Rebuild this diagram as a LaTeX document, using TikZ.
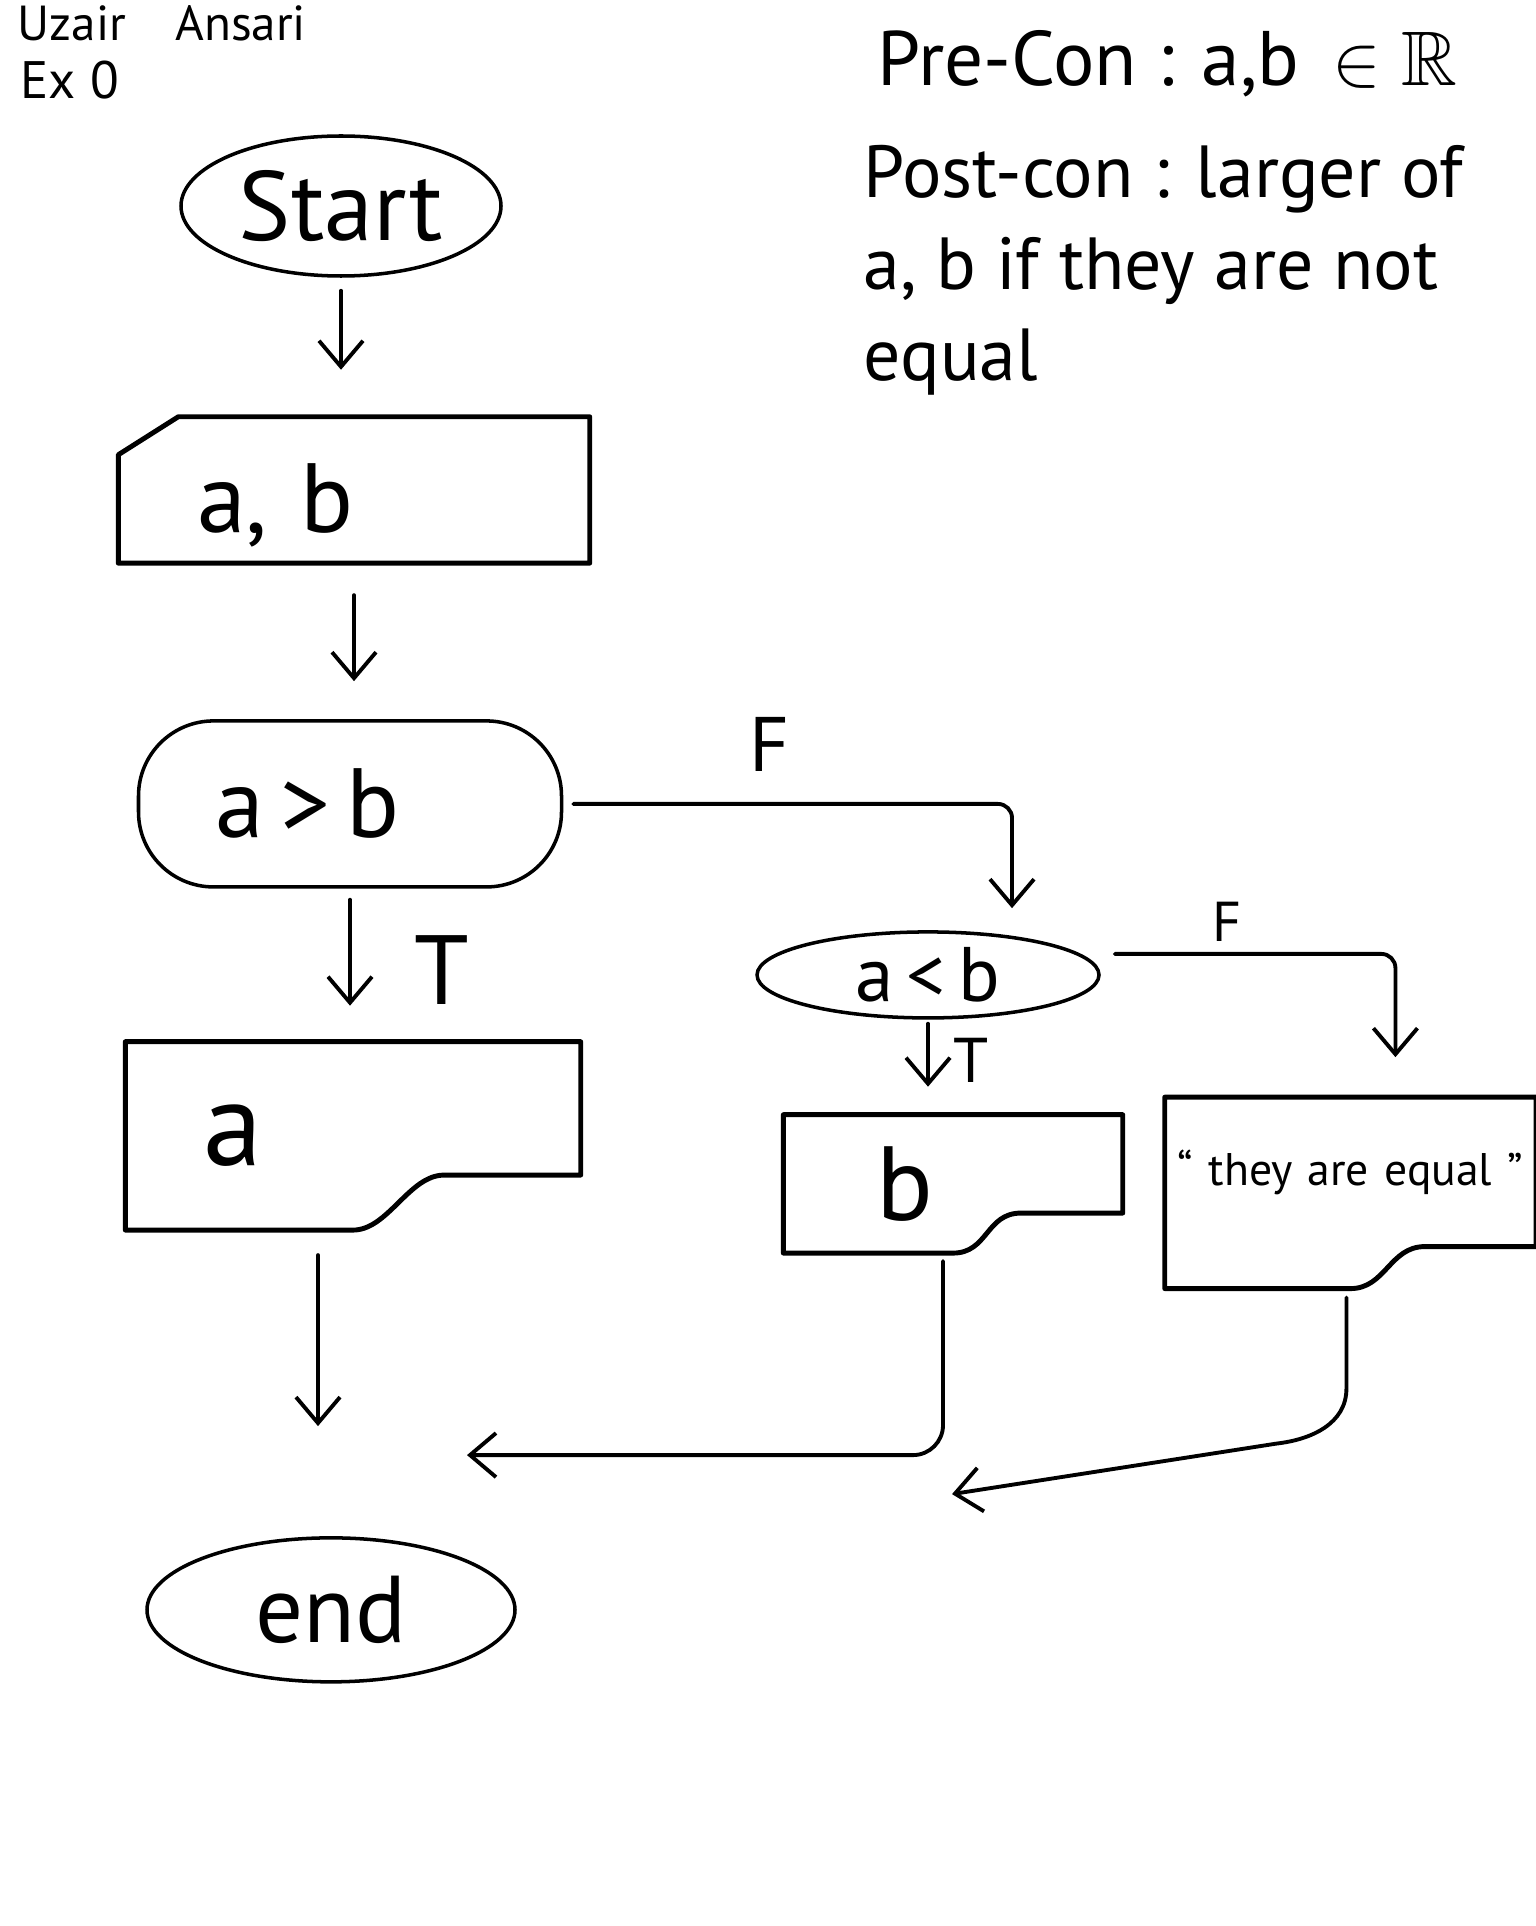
\documentclass[tikz,border=0pt]{standalone}
\usepackage{fontspec}
\setmainfont{PT Sans}
\usepackage{amssymb}
\usetikzlibrary{arrows.meta, positioning, calc, shapes.geometric}

% outline of an output box (wavy bottom)
\newcommand{\docoutline}[2]{%
  \draw[shapeline] (#1.south west) -- (#1.north west) -- (#1.north east)
    -- ($(#1.south east)+(0,#2)$)
    -- ($(#1.south west)!0.7!(#1.south east)+(0,#2)$)
    .. controls +(-0.35,0) and +(0.35,0) .. ($(#1.south west)!0.5!(#1.south east)$)
    -- cycle;}
% outline of the input box (cut corner)
\newcommand{\inoutline}[1]{%
  \draw[shapeline] (#1.south west) -- ($(#1.north west)+(0,-0.38)$)
    -- ($(#1.north west)+(0.6,0)$) -- (#1.north east) -- (#1.south east) -- cycle;}

\begin{document}
\begin{tikzpicture}[
        note/.style={inner sep=0pt, text=black},
        shapeline/.style={draw=black, line width=1.4pt, line join=round},
        term/.style={
            ellipse, draw=black, line width=1pt,
            minimum width=3.2cm, minimum height=1.4cm, inner sep=0pt,
            font=\fontsize{28}{30}\selectfont
        },
        inbox/.style={
            rectangle, minimum width=4.7cm, minimum height=1.45cm,
            text width=3.14cm, inner xsep=0.78cm, inner ysep=0pt, align=left,
            text height=1.15cm, text depth=0.3cm,
            font=\fontsize{28}{30}\selectfont
        },
        decision/.style={
            rectangle, rounded corners=0.75cm, draw=black, line width=1pt,
            minimum width=4.23cm, minimum height=1.66cm,
            text width=2.69cm, inner xsep=0.77cm, align=left,
            font=\fontsize{28}{30}\selectfont
        },
        cond/.style={
            ellipse, draw=black, line width=1pt,
            minimum width=3.42cm, minimum height=0.86cm, inner sep=0pt,
            font=\fontsize{22}{24}\selectfont
        },
        docbox/.style={rectangle, inner ysep=0pt, align=left},
        lbl/.style={inner sep=0pt},
        arr/.style={-{Straight Barb[length=2.6mm, width=4.4mm]}, line width=1.1pt, line cap=round}
        ]

    \path[use as bounding box, fill=white] (0,0) rectangle (15.35,-19.26);

    % --- header notes ---
        \node[note, anchor=base west, font=\fontsize{14}{16}\selectfont] (author) at (0.17,-0.41) {Uzair\quad Ansari};
        \node[note, anchor=base west, font=\fontsize{15}{17}\selectfont] (exno) at (0.2,-0.99) {Ex 0};

        \node[note, anchor=base west, font=\fontsize{22}{24}\selectfont] (precon) at (8.77,-0.86)
            {Pre-Con : a,b\, $\in \mathbb{R}$};
        \node[note, anchor=north west, align=left, font=\fontsize{21}{26}\selectfont] (postcon) at (8.63,-1.45)
            {Post-con : larger of\\ a, b if they are not\\ equal};

    % --- main column ---
        \node[term] (start) at (3.41,-2.06) {Start};
        \node[inbox, below=1.39cm of start, xshift=0.13cm] (input) {a, b};
        \inoutline{input}

        \node[decision, below=1.56cm of input, xshift=-0.04cm] (dec) {a\,>\,b};

        \node[docbox, below=1.53cm of dec, xshift=0.03cm, minimum width=4.54cm, minimum height=1.87cm,
              text width=3.0cm, inner xsep=0.77cm, font=\fontsize{34}{36}\selectfont] (outa) {a};
        \docoutline{outa}{0.55cm}

        \node[term, below=3.06cm of outa, xshift=-0.22cm, minimum width=3.68cm, minimum height=1.44cm,
              font=\fontsize{27}{29}\selectfont] (endn) {end};

    % --- right branch ---
        \node[cond, right=1.92cm of dec, yshift=-1.71cm] (lt) {a\,<\,b};

        \node[docbox, below=0.95cm of lt, xshift=0.25cm, minimum width=3.38cm, minimum height=1.37cm,
              text width=1.54cm, inner xsep=0.92cm, font=\fontsize{30}{32}\selectfont] (outb) {b};
        \docoutline{outb}{0.4cm}

        \node[docbox, right=0.42cm of outb, yshift=-0.09cm, minimum width=3.7cm, minimum height=1.9cm,
              text width=3.5cm, inner xsep=0.1cm, inner ysep=0.1cm, text height=0.78cm, text depth=0.92cm,
              align=center, font=\fontsize{13}{15}\selectfont] (equal) {“ they are equal ”};
        \docoutline{equal}{0.42cm}

    % --- connectors ---
        \draw[arr, shorten <=0.13cm, shorten >=0.47cm] (start.south) -- (start.south |- input.north);
        \draw[arr, shorten <=0.32cm, shorten >=0.38cm] (input.south) -- (input.south |- dec.north);

        \draw[arr, shorten <=0.11cm, shorten >=0.36cm] (dec.south)
            -- node[lbl, pos=0.53, right=0.63cm, font=\fontsize{28}{30}\selectfont] (ta) {T} (dec.south |- outa.north);
        \draw[arr, rounded corners=4pt, shorten <=0.1cm, shorten >=0.22cm] (dec.east)
            -| node[lbl, pos=0.23, above=0.3cm, font=\fontsize{22}{24}\selectfont] (fa) {F} ([xshift=0.84cm]lt.north);

        \draw[arr, shorten <=0.04cm, shorten >=0.28cm] (lt.south)
            -- node[lbl, pos=0.43, right=0.24cm, font=\fontsize{18}{20}\selectfont] (tb) {T} (lt.south |- outb.north);
        \draw[arr, rounded corners=4pt, shorten <=0.14cm, shorten >=0.4cm] ([yshift=0.21cm]lt.east)
            -| node[lbl, pos=0.215, above=0.1cm, font=\fontsize{16}{18}\selectfont] (fb) {F} ([xshift=0.45cm]equal.north);

    % --- everything runs into end ---
        \coordinate (afoot) at ([xshift=-0.35cm]outa.south);
        \coordinate (joinb) at ($(endn.north)+(1.36,0.81)$);
        \coordinate (joine) at ($(endn.north)+(6.21,0.42)$);

        \draw[arr, shorten <=0.25cm, shorten >=1.1cm] (afoot) -- (afoot |- endn.north);
        \draw[arr, rounded corners=0.3cm, shorten <=0.08cm] ([xshift=-0.1cm]outb.south) |- (joinb);
        \draw[arr, shorten <=0.09cm] ([xshift=-0.04cm]equal.south) -- ++(0,-1.0)
            .. controls +(0,-0.35) and +(0.35,0.04) .. ++(-0.7,-0.55) -- (joine);

\end{tikzpicture}
\end{document}
